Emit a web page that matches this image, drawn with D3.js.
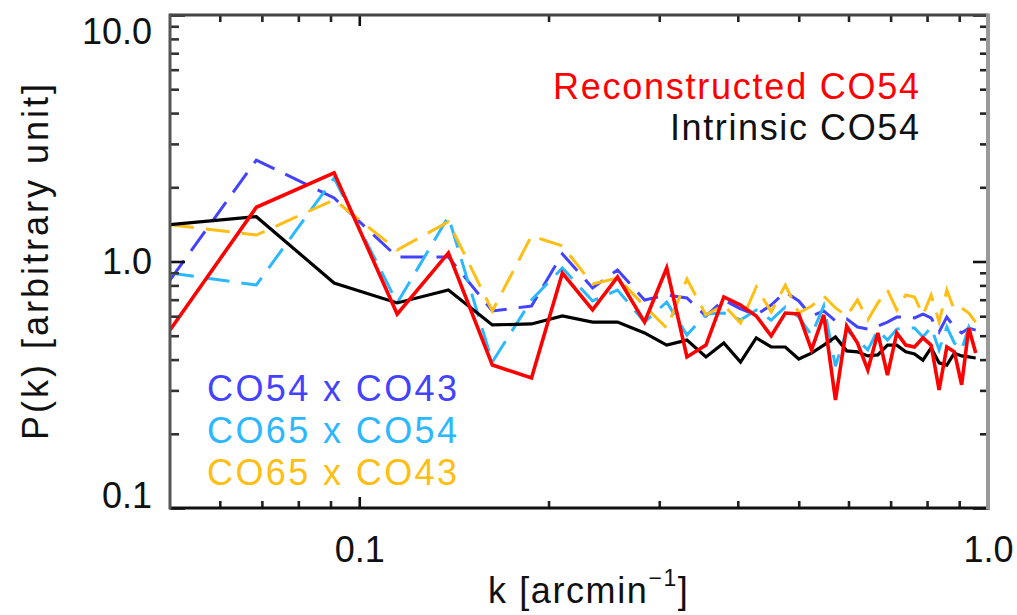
<!DOCTYPE html>
<html><head><meta charset="utf-8">
<script src="https://cdn.jsdelivr.net/npm/d3@7"></script>
<style>
body{margin:0;background:#fff}
svg{display:block}
text{font-family:"Liberation Sans",Arial,Helvetica,sans-serif}
</style>
</head><body>
<svg id="c" width="1017" height="615"></svg>
<script>
// ---- data ----
const k = [0.05, 0.0686, 0.0912, 0.1149, 0.1386, 0.1628, 0.1879, 0.2104, 0.235, 0.2575, 0.2843, 0.3083, 0.332, 0.356, 0.380, 0.404, 0.428, 0.452, 0.476, 0.500, 0.524, 0.548, 0.572, 0.596, 0.620, 0.644, 0.668, 0.692, 0.716, 0.740, 0.764, 0.788, 0.812, 0.836, 0.860, 0.884, 0.908, 0.932, 0.956];
const reconstructedCO54 = [0.527, 1.66, 2.29, 0.612, 1.083, 0.380, 0.337, 0.898, 0.636, 0.865, 0.568, 0.941, 0.410, 0.458, 0.718, 0.666, 0.601, 0.499, 0.618, 0.612, 0.438, 0.607, 0.274, 0.547, 0.467, 0.363, 0.513, 0.346, 0.513, 0.458, 0.450, 0.490, 0.458, 0.301, 0.450, 0.430, 0.316, 0.537, 0.425];
const intrinsicCO54 = [1.41, 1.52, 0.818, 0.679, 0.766, 0.553, 0.558, 0.601, 0.568, 0.568, 0.513, 0.458, 0.480, 0.410, 0.467, 0.391, 0.490, 0.450, 0.450, 0.402, 0.425, 0.458, 0.494, 0.434, 0.430, 0.414, 0.418, 0.458, 0.458, 0.430, 0.422, 0.398, 0.446, 0.388, 0.380, 0.425, 0.414, 0.410, 0.406];
const co54xco43 = [0.841, 2.58, 1.81, 1.043, 1.043, 0.630, 0.660, 1.073, 0.781, 0.924, 0.698, 0.731, 0.711, 0.601, 0.698, 0.642, 0.607, 0.666, 0.752, 0.692, 0.601, 0.630, 0.574, 0.585, 0.542, 0.532, 0.547, 0.568, 0.595, 0.595, 0.590, 0.612, 0.590, 0.518, 0.595, 0.542, 0.513, 0.537, 0.527];
const co65xco54 = [0.898, 0.803, 2.18, 0.679, 1.52, 0.391, 0.698, 0.941, 0.692, 0.766, 0.568, 0.685, 0.503, 0.612, 0.618, 0.579, 0.636, 0.579, 0.654, 0.595, 0.503, 0.660, 0.376, 0.527, 0.480, 0.438, 0.527, 0.480, 0.532, 0.537, 0.537, 0.494, 0.542, 0.438, 0.542, 0.467, 0.438, 0.542, 0.471];
const co65xco43 = [1.41, 1.28, 1.78, 1.113, 1.45, 0.630, 1.27, 1.156, 0.810, 0.857, 0.660, 0.537, 0.849, 0.607, 0.666, 0.563, 0.788, 0.624, 0.803, 0.618, 0.660, 0.725, 0.648, 0.601, 0.698, 0.579, 0.679, 0.766, 0.636, 0.731, 0.718, 0.607, 0.731, 0.568, 0.766, 0.636, 0.648, 0.618, 0.568];

const xMajorTicks = [0.1, 1.0];
const xTickLabels = ["0.1", "1.0"];
const xMinorTicks = [0.06, 0.07, 0.08, 0.09, 0.2, 0.3, 0.4, 0.5, 0.6, 0.7, 0.8, 0.9];
const yMajorTicks = [0.1, 1.0, 10.0];
const yTickLabels = ["0.1", "1.0", "10.0"];
const yMinorTicks = [0.2, 0.3, 0.4, 0.5, 0.6, 0.7, 0.8, 0.9, 2, 3, 4, 5, 6, 7, 8, 9];

// ---- layout ----
const L = 170, R = 988, T = 15, B = 508;
const svg = d3.select("#c");
const x = d3.scaleLog().domain([0.05, 1.0]).range([L, R]);
const y = d3.scaleLog().domain([0.1, 10]).range([B, T]);

svg.append("defs").append("clipPath").attr("id", "clip")
  .append("rect").attr("x", L).attr("y", T).attr("width", R - L).attr("height", B - T);

const line = d3.line().x(d => x(d[0])).y(d => y(d[1]));
const series = [
  {vals: co54xco43, color: "#4343ff", width: 3, dash: "24,12"},
  {vals: co65xco54, color: "#2cb8ff", width: 3, dash: "24,12"},
  {vals: co65xco43, color: "#ffbe14", width: 3, dash: "24,12"},
  {vals: intrinsicCO54, color: "#000000", width: 3.2, dash: null},
  {vals: reconstructedCO54, color: "#ff0000", width: 3.6, dash: null}
];
const g = svg.append("g").attr("clip-path", "url(#clip)");
series.forEach(s => {
  g.append("path")
    .datum(k.map((kv, i) => [kv, s.vals[i]]))
    .attr("d", line)
    .attr("fill", "none")
    .attr("stroke", s.color)
    .attr("stroke-width", s.width)
    .attr("stroke-linejoin", "miter")
    .attr("stroke-dasharray", s.dash);
});

// ---- axes ----
function styleAxis(sel, col) {
  sel.select(".domain").remove();
  sel.selectAll(".tick line").attr("stroke", col).attr("stroke-width", 2.6);
  sel.selectAll(".tick text").attr("font-size", 36).attr("fill", "#111")
    .attr("font-family", '"Liberation Sans", Arial, sans-serif');
}
// bottom
const bx = svg.append("g").attr("transform", `translate(0,${B})`)
  .call(d3.axisBottom(x).tickValues(xMajorTicks).tickSize(-11).tickSizeOuter(0).tickPadding(28)
    .tickFormat((d, i) => xTickLabels[i]));
styleAxis(bx, "#111");
const bxm = svg.append("g").attr("transform", `translate(0,${B})`)
  .call(d3.axisBottom(x).tickValues(xMinorTicks).tickSize(-7).tickSizeOuter(0).tickFormat(""));
styleAxis(bxm, "#222");
// top
const tx = svg.append("g").attr("transform", `translate(0,${T})`)
  .call(d3.axisTop(x).tickValues(xMajorTicks).tickSize(-11).tickSizeOuter(0).tickFormat(""));
styleAxis(tx, "#111");
const txm = svg.append("g").attr("transform", `translate(0,${T})`)
  .call(d3.axisTop(x).tickValues(xMinorTicks).tickSize(-7).tickSizeOuter(0).tickFormat(""));
styleAxis(txm, "#222");
// left
const ly = svg.append("g").attr("transform", `translate(${L},0)`)
  .call(d3.axisLeft(y).tickValues(yMajorTicks).tickSize(-15).tickSizeOuter(0).tickPadding(18)
    .tickFormat((d, i) => yTickLabels[i]));
styleAxis(ly, "#111");
// keep first/last labels inside the axis span, as in the reference
ly.selectAll(".tick text").attr("dy", (d) => d === 0.1 ? "-0.02em" : d === 10 ? "0.8em" : "0.34em");
const lym = svg.append("g").attr("transform", `translate(${L},0)`)
  .call(d3.axisLeft(y).tickValues(yMinorTicks).tickSize(-9).tickSizeOuter(0).tickFormat(""));
styleAxis(lym, "#333");
// right
const ry = svg.append("g").attr("transform", `translate(${R},0)`)
  .call(d3.axisRight(y).tickValues(yMajorTicks).tickSize(-15).tickSizeOuter(0).tickFormat(""));
styleAxis(ry, "#111");
const rym = svg.append("g").attr("transform", `translate(${R},0)`)
  .call(d3.axisRight(y).tickValues(yMinorTicks).tickSize(-8).tickSizeOuter(0).tickFormat(""));
styleAxis(rym, "#222");

// frame
const frame = svg.append("g");
frame.append("line").attr("x1", L).attr("x2", R + 2).attr("y1", B).attr("y2", B).attr("stroke", "#111").attr("stroke-width", 3);
frame.append("line").attr("x1", L).attr("x2", R).attr("y1", T).attr("y2", T).attr("stroke", "#444").attr("stroke-width", 3);
frame.append("line").attr("x1", L).attr("x2", L).attr("y1", T - 1.5).attr("y2", B + 1.5).attr("stroke", "#555").attr("stroke-width", 3);
frame.append("line").attr("x1", R).attr("x2", R).attr("y1", T - 1.5).attr("y2", B + 1.5).attr("stroke", "#999").attr("stroke-width", 4);

// ---- titles ----
svg.append("text").attr("transform", "translate(48,262) rotate(-90)")
  .attr("text-anchor", "middle").attr("font-size", 36).attr("fill", "#111")
  .attr("textLength", 356).attr("lengthAdjust", "spacing")
  .text("P(k) [arbitrary unit]");
const xt = svg.append("text").attr("x", 488).attr("y", 603)
  .attr("font-size", 36).attr("fill", "#111").attr("letter-spacing", "1.6px");
xt.append("tspan").text("k [arcmin");
xt.append("tspan").attr("font-size", 23).attr("dy", -17).text("−1");
xt.append("tspan").attr("dy", 17).text("]");

// ---- legends ----
svg.append("text").attr("x", 553).attr("y", 99).attr("font-size", 36).attr("fill", "#ff0000")
  .attr("textLength", 366).attr("lengthAdjust", "spacing").text("Reconstructed CO54");
svg.append("text").attr("x", 670).attr("y", 140).attr("font-size", 36).attr("fill", "#111")
  .attr("textLength", 249).attr("lengthAdjust", "spacing").text("Intrinsic CO54");

const legendItems = [
  {label: "CO54 x CO43", color: "#4343ff", yb: 401},
  {label: "CO65 x CO54", color: "#2cb8ff", yb: 443},
  {label: "CO65 x CO43", color: "#ffbe14", yb: 485}
];
legendItems.forEach(it => {
  svg.append("text").attr("x", 207).attr("y", it.yb).attr("font-size", 36).attr("fill", it.color)
    .attr("textLength", 250).attr("lengthAdjust", "spacing").text(it.label);
});
</script>
</body></html>
